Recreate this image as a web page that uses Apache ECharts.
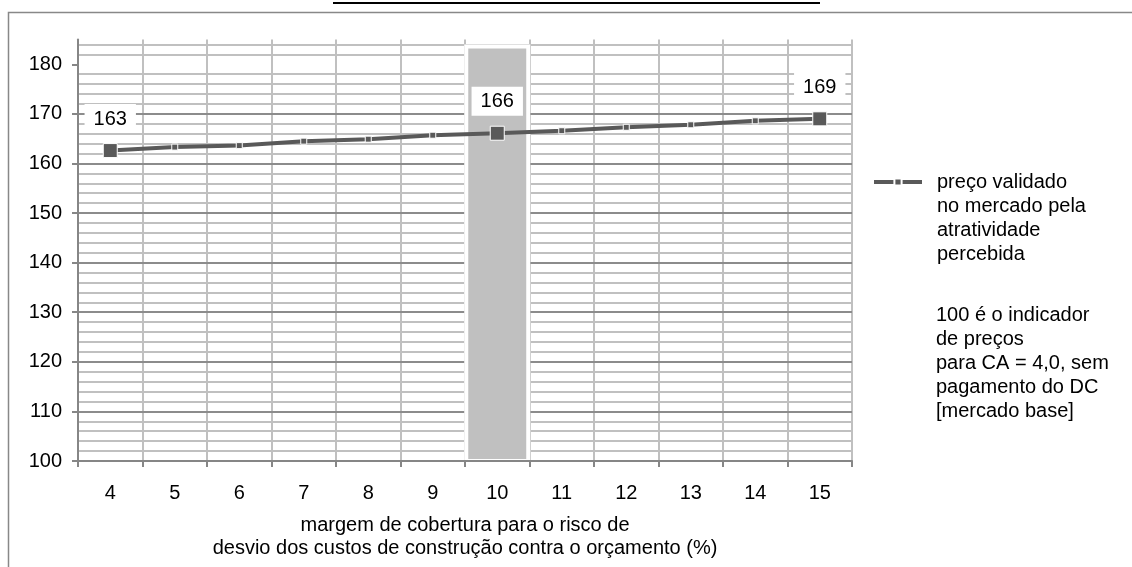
<!DOCTYPE html>
<html>
<head>
<meta charset="utf-8">
<script src="https://cdn.jsdelivr.net/npm/echarts@6/dist/echarts.min.js"></script>
<style>
html,body{margin:0;padding:0;background:#fff;}
#chart{width:1132px;height:567px;}
</style>
</head>
<body>
<div id="chart"></div>
<script>
// ---- data ----
const categories = ['4', '5', '6', '7', '8', '9', '10', '11', '12', '13', '14', '15'];
const priceIndex = [162.6, 163.3, 163.6, 164.5, 164.9, 165.7, 166.1, 166.6, 167.3, 167.8, 168.6, 169.0];
const labeledCategories = ['4', '10', '15'];
const highlightCategory = '10';
const highlightTop = 184;
const yMin = 100;
const yMax = 185;
const yMajorTicks = [100, 110, 120, 130, 140, 150, 160, 170, 180];
const seriesName = 'preço validado\nno mercado pela\natratividade\npercebida';
const xAxisTitle = 'margem de cobertura para o risco de\ndesvio dos custos de construção contra o orçamento (%)';
const noteLines = ['100 é o indicador', 'de preços', 'para CA = 4,0, sem', 'pagamento do DC', '[mercado base]'];

// ---- chart ----
const FONT = 'Liberation Sans, Arial, sans-serif';
const LINE_COLOR = '#595959';
const chart = echarts.init(document.getElementById('chart'), null, {renderer: 'canvas'});

const lineData = categories.map((c, i) => {
  const big = labeledCategories.indexOf(c) >= 0;
  return {
    value: priceIndex[i],
    symbolSize: big ? 14 : 6,
    label: {show: big}
  };
});
const barData = categories.map(c => (c === highlightCategory ? highlightTop : null));

const option = {
  animation: false,
  backgroundColor: '#fff',
  textStyle: {fontFamily: FONT, color: '#000'},
  grid: {left: 78, right: 280, top: 39.5, bottom: 106, outerBoundsMode: 'none', containLabel: false},
  xAxis: [
    {
      type: 'category',
      data: categories,
      boundaryGap: true,
      axisLine: {show: false},
      axisTick: {show: false},
      axisLabel: {show: false},
      splitLine: {show: true, lineStyle: {color: '#c0c0c0', width: 2}},
      z: 0
    },
    {
      type: 'category',
      data: categories,
      position: 'bottom',
      boundaryGap: true,
      axisLine: {show: true, lineStyle: {color: '#868686', width: 2}},
      axisTick: {show: true, length: 6, lineStyle: {color: '#868686', width: 2}},
      axisLabel: {show: true, margin: 22, fontSize: 20, color: '#000', fontFamily: FONT},
      splitLine: {show: false},
      name: xAxisTitle,
      nameLocation: 'middle',
      nameGap: 53,
      nameTextStyle: {fontSize: 20, lineHeight: 23, color: '#000', fontFamily: FONT},
      z: 5
    }
  ],
  yAxis: [
    {
      type: 'value',
      min: yMin,
      max: yMax,
      interval: 10,
      position: 'left',
      axisLine: {show: true, lineStyle: {color: '#868686', width: 2}},
      axisTick: {show: true, inside: false, length: 6, customValues: yMajorTicks, lineStyle: {color: '#868686', width: 2}},
      axisLabel: {show: true, margin: 16, fontSize: 20, color: '#000', fontFamily: FONT, customValues: yMajorTicks,
        formatter: v => (yMajorTicks.indexOf(v) >= 0 ? String(v) : '')},
      splitLine: {show: true, showMaxLine: false, lineStyle: {color: '#8c8c8c', width: 2}},
      z: 1
    },
    {
      type: 'value',
      min: yMin,
      max: yMax,
      interval: 2,
      position: 'left',
      axisLine: {show: false},
      axisTick: {show: false},
      axisLabel: {show: false},
      splitLine: {show: true, showMaxLine: false,
        lineStyle: {color: ['rgba(0,0,0,0)', '#c0c0c0', '#c0c0c0', '#c0c0c0', '#c0c0c0'], width: 2}},
      z: 0
    }
  ],
  legend: {
    show: true,
    data: [seriesName],
    left: 872,
    top: 98,
    padding: 0,
    orient: 'vertical',
    itemWidth: 48,
    itemHeight: 9,
    formatter: name => '\n\n\n' + name,
    lineStyle: {width: 4},
    textStyle: {fontSize: 20, lineHeight: 24, color: '#000', fontFamily: FONT, padding: [0, 0, 0, 10]}
  },
  series: [
    {
      type: 'bar',
      name: 'destaque',
      xAxisIndex: 0,
      yAxisIndex: 0,
      data: barData,
      barWidth: 66,
      itemStyle: {color: '#c0c0c0', borderColor: '#fff', borderWidth: 4},
      silent: true,
      z: 2
    },
    {
      type: 'line',
      name: seriesName,
      xAxisIndex: 0,
      yAxisIndex: 0,
      data: lineData,
      symbol: 'rect',
      lineStyle: {color: LINE_COLOR, width: 4},
      itemStyle: {color: LINE_COLOR, borderColor: '#fff', borderWidth: 1},
      label: {
        position: 'top',
        distance: 10,
        formatter: p => String(Math.round(p.value)),
        fontSize: 20,
        color: '#000',
        fontFamily: FONT,
        backgroundColor: '#fff',
        padding: [5, 9, 4, 9]
      },
      z: 6
    }
  ],
  graphic: [
    {type: 'line', shape: {x1: 333, y1: 3, x2: 820, y2: 3}, style: {stroke: '#000', lineWidth: 2}, z: -1},
    {type: 'rect', shape: {x: 8.5, y: 12.5, width: 1300, height: 700}, style: {stroke: '#888888', fill: 'none', lineWidth: 1.5}, z: -1},
    {type: 'text', left: 936, top: 303, style: {text: noteLines.join('\n'), font: '20px ' + FONT, lineHeight: 24, fill: '#000'}}
  ]
};
chart.setOption(option);
</script>
</body>
</html>
